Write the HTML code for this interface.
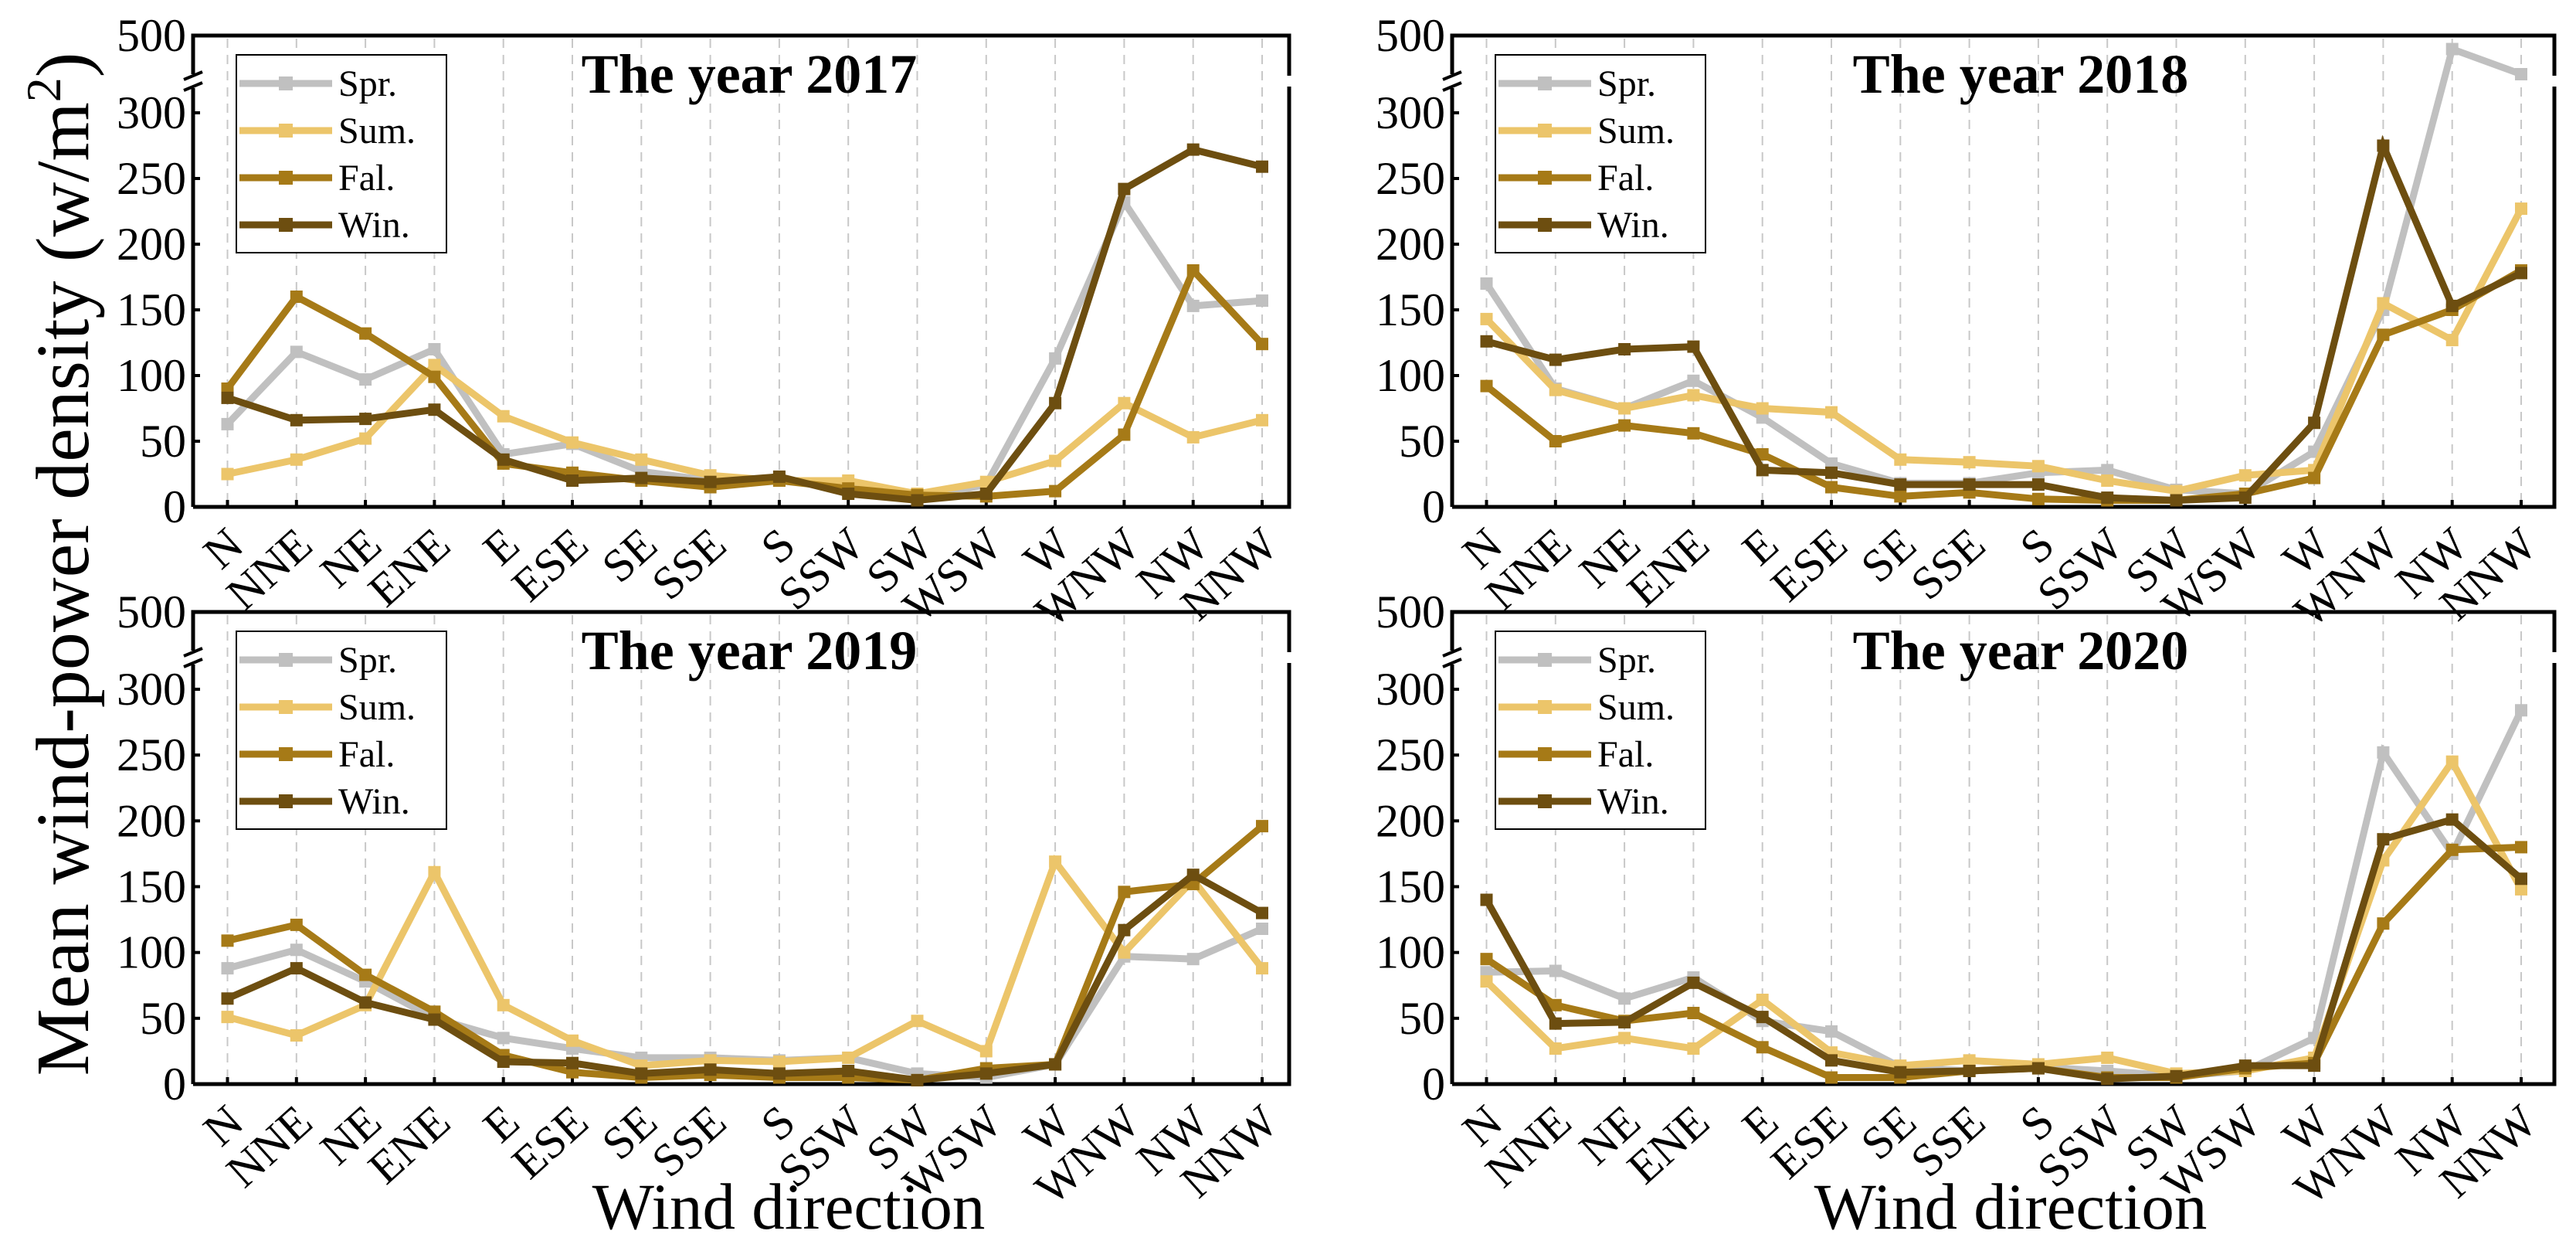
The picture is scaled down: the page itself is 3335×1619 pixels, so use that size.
<!DOCTYPE html>
<html><head><meta charset="utf-8">
<style>
html,body{margin:0;padding:0;background:#fff;}
svg{display:block;font-family:"Liberation Serif","Times New Roman",serif;}
</style></head>
<body>
<svg id="chart" width="3335" height="1619" viewBox="0 0 3335 1619" xmlns="http://www.w3.org/2000/svg">
<text transform="translate(114,730) rotate(-90)" text-anchor="middle" font-size="98">Mean wind-power density (w/m<tspan dy="-36" font-size="64">2</tspan><tspan dy="36">)</tspan></text>
<text x="1021" y="1590" text-anchor="middle" font-size="85">Wind direction</text>
<text x="2603" y="1590" text-anchor="middle" font-size="85">Wind direction</text>
</svg>
<script>
const categories = ["N","NNE","NE","ENE","E","ESE","SE","SSE","S","SSW","SW","WSW","W","WNW","NW","NNW"];
const seasons = ["Spr.","Sum.","Fal.","Win."];
const yTicks = [0,50,100,150,200,250,300,500];
const years = ["2017","2018","2019","2020"];

const spr2017 = [63,118,97,120,40,48,27,20,22,12,6,17,113,232,153,157];
const sum2017 = [25,36,52,108,69,49,36,24,20,20,10,19,35,79,53,66];
const fal2017 = [90,160,132,99,33,26,20,15,20,14,9,8,12,55,180,124];
const win2017 = [83,66,67,74,36,20,22,19,23,10,5,10,79,242,272,259];

const spr2018 = [170,90,75,96,68,33,18,18,26,28,13,10,42,150,465,400];
const sum2018 = [143,89,75,85,75,72,36,34,31,20,12,24,28,155,127,227];
const fal2018 = [92,50,62,56,40,15,8,11,6,5,5,10,22,131,150,180];
const win2018 = [126,112,120,122,28,26,17,17,17,7,5,7,64,275,153,178];

const spr2019 = [88,102,78,50,35,27,20,20,18,20,8,5,15,97,95,118];
const sum2019 = [51,37,60,161,60,33,14,18,17,20,48,25,169,100,155,88];
const fal2019 = [109,121,83,55,22,9,5,7,5,5,3,12,15,146,152,196];
const win2019 = [65,88,62,49,17,16,8,11,8,10,3,8,15,117,159,130];

const spr2020 = [85,86,65,81,48,40,13,10,13,10,6,10,35,252,175,284];
const sum2020 = [78,27,35,27,64,24,14,18,15,20,8,10,20,170,245,148];
const fal2020 = [95,60,48,54,28,5,5,10,12,5,5,12,16,122,178,180];
const win2020 = [140,46,47,77,51,18,9,10,12,4,6,14,14,186,201,156];

const panelSeries = [
  [spr2017,sum2017,fal2017,win2017],
  [spr2018,sum2018,fal2018,win2018],
  [spr2019,sum2019,fal2019,win2019],
  [spr2020,sum2020,fal2020,win2020]
];
const colors = ["#c0c0c0","#ecc56a","#a67a17","#6d4e10"];

const NS = "http://www.w3.org/2000/svg";
const svg = document.getElementById("chart");
function mk(tag, attrs, parent){
  const e = document.createElementNS(NS, tag);
  for (const k in attrs) e.setAttribute(k, attrs[k]);
  (parent||svg).appendChild(e);
  return e;
}
const layouts = [
  {ax:250, right:1669, top:46, zero:656},
  {ax:1880, right:3307, top:46, zero:656},
  {ax:250, right:1669, top:792, zero:1403},
  {ax:1880, right:3307, top:792, zero:1403}
];

layouts.forEach((L, p) => {
  const g = mk("g", {});
  
  
  const step = 89.3;
  const x0 = L.ax + 44.5;
  const xs = i => x0 + i*step;
  const pxPer = (L.zero - (L.top + 100)) / 300;
  const y300 = L.zero - 300*pxPer;
  const ys = v => v <= 300 ? L.zero - v*pxPer : y300 - (v-300)*(y300 - L.top)/200;
  const brk = L.top + 59;

  categories.forEach((c,i) => {
    const gl = mk("line", {x1:xs(i), x2:xs(i), y1:L.top+4, y2:L.zero, stroke:"#c8c8c8", "stroke-width":2, "stroke-dasharray":"12 9"}, g);
    
    
  });
  const fr = mk("path", {d:`M${L.ax},${L.zero} H${L.right} V${brk+7} M${L.right},${brk-7} V${L.top} H${L.ax} V${brk-9} M${L.ax},${brk+9} V${L.zero}`, fill:"none", stroke:"#000", "stroke-width":5}, g);
  
  
  const bm = mk("path", {d:`M${L.ax-12},${brk-2} L${L.ax+12},${brk-12} M${L.ax-12},${brk+12} L${L.ax+12},${brk+2}`, stroke:"#000", "stroke-width":4}, g);
  
  
  yTicks.forEach(t => {
    const y = ys(t);
    if (t <= 300) mk("line", {x1:L.ax, x2:L.ax+9, y1:y, y2:y, stroke:"#000", "stroke-width":4}, g);
    const tl = mk("text", {x:L.ax-9, y:y+20, "text-anchor":"end", "font-size":60}, g);
    tl.textContent = t;
    
    
  });
  categories.forEach((c,i) => {
    mk("line", {x1:xs(i), x2:xs(i), y1:L.zero, y2:L.zero-9, stroke:"#000", "stroke-width":4}, g);
    const tl = mk("text", {"text-anchor":"end", "font-size":60, transform:`translate(${xs(i)+24},${L.zero+54}) rotate(-42)`}, g);
    tl.textContent = c;
    
    
  });
  panelSeries[p].forEach((vals, s) => {
    const pts = vals.map((v,i) => xs(i)+","+ys(v)).join(" ");
    const pl = mk("polyline", {points:pts, fill:"none", stroke:colors[s], "stroke-width":9, "stroke-linejoin":"miter"}, g);
    
    
    vals.forEach((v,i) => {
      const m = mk("rect", {x:xs(i)-8, y:ys(v)-8, width:16, height:16, fill:colors[s]}, g);
      
      
    });
  });
  const lx = L.ax + 56, ly = L.top + 25;
  const lg = mk("g", {}, g);
  
  
  mk("rect", {x:lx, y:ly, width:272, height:256, fill:"#fff", stroke:"#000", "stroke-width":2}, lg);
  seasons.forEach((s,k) => {
    const ry = ly + 37 + k*61;
    const le = mk("g", {}, lg);
    
    
    mk("line", {x1:lx+4, x2:lx+124, y1:ry, y2:ry, stroke:colors[k], "stroke-width":9}, le);
    mk("rect", {x:lx+55, y:ry-9, width:18, height:18, fill:colors[k]}, le);
    const t = mk("text", {x:lx+132, y:ry+16, "font-size":48}, le);
    t.textContent = s;
  });
  const cx = L.ax + (p % 2 === 0 ? 720 : 736);
  const tt = mk("text", {x:cx, y:L.top+74, "text-anchor":"middle", "font-size":72, "font-weight":"bold"}, g);
  tt.textContent = "The year " + years[p];
  
  
});
</script>
</body></html>
